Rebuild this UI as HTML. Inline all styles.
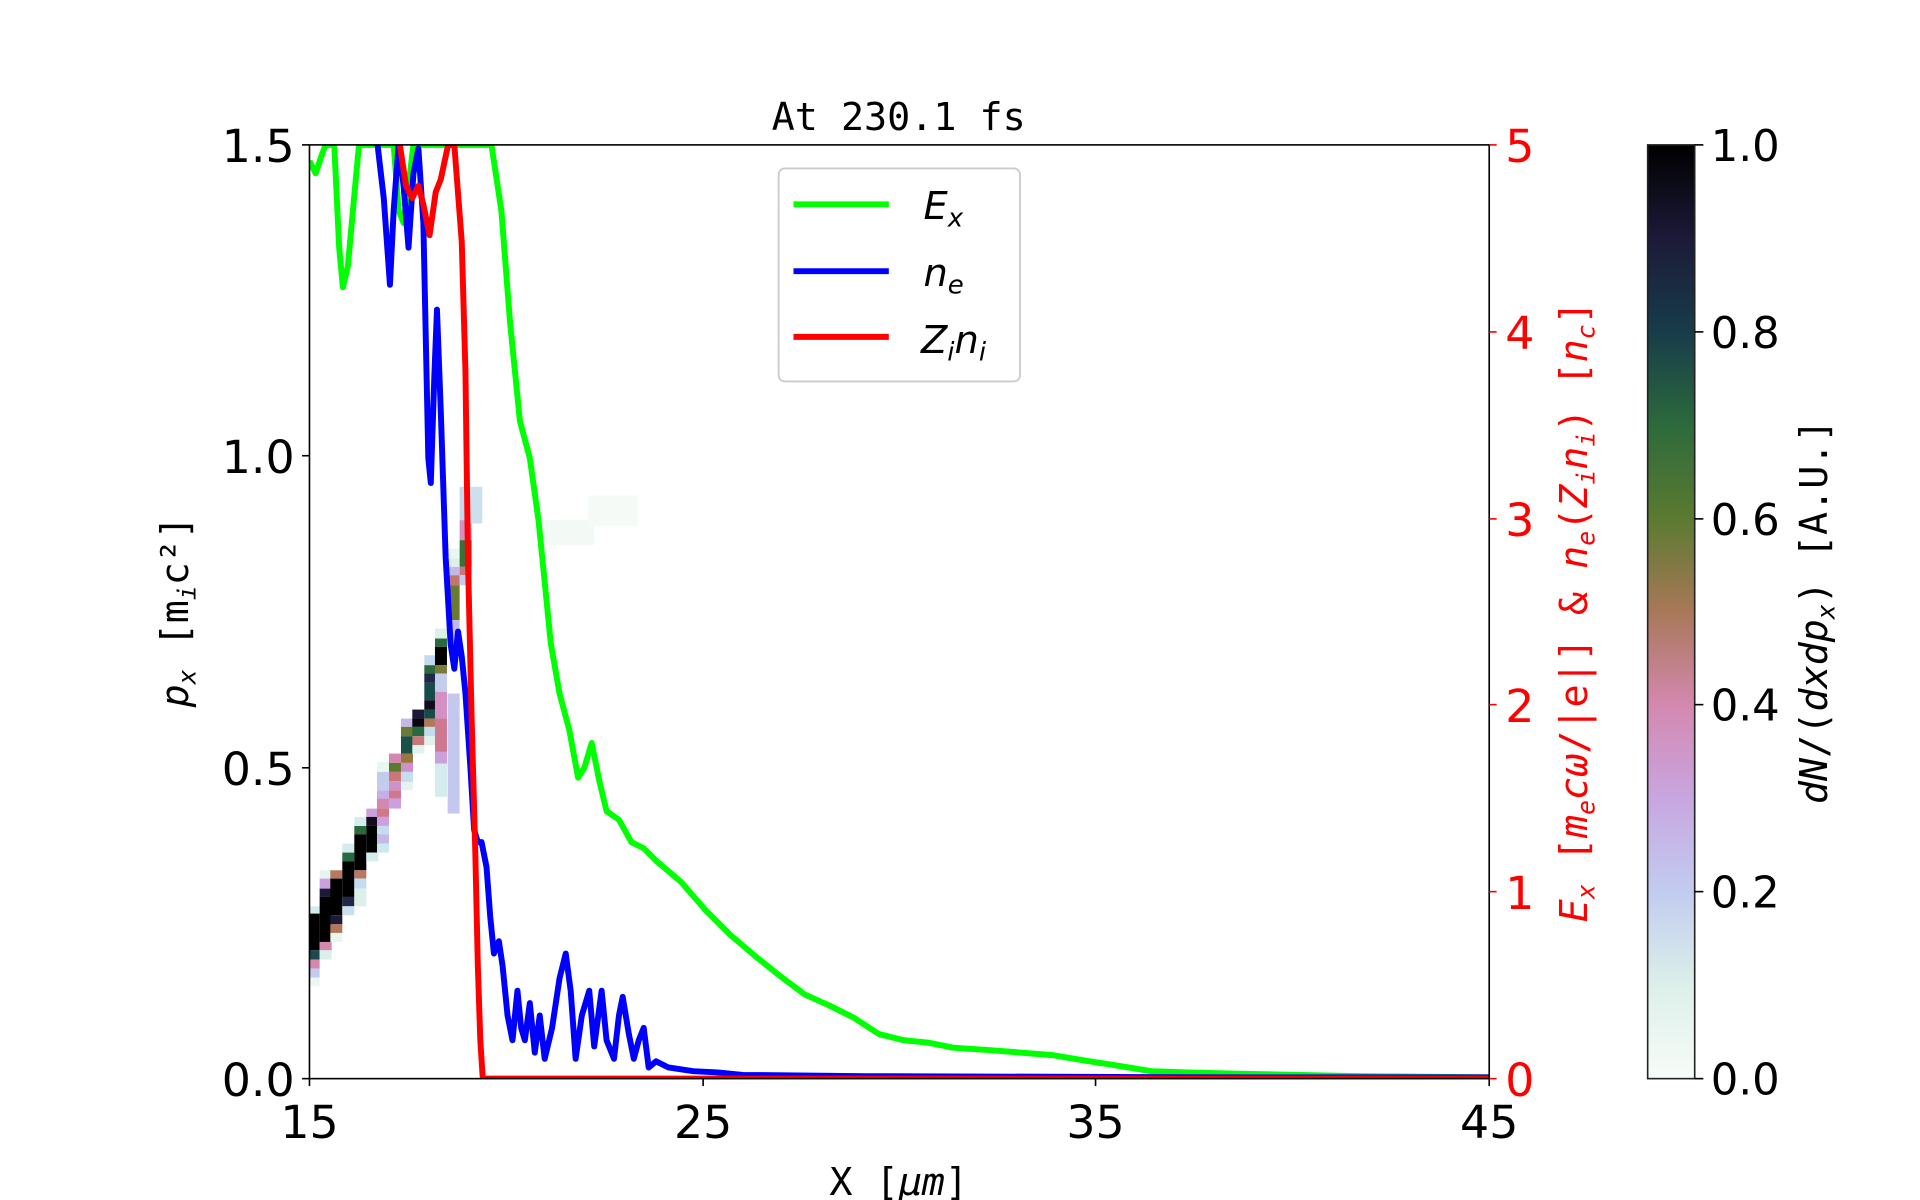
<!DOCTYPE html>
<html><head><meta charset="utf-8"><style>html,body{margin:0;padding:0;background:#fff}svg{display:block}</style></head>
<body>
<svg width="1920" height="1200" viewBox="0 0 1551 969" preserveAspectRatio="none" xmlns="http://www.w3.org/2000/svg" font-family="DejaVu Sans, Liberation Sans, sans-serif">
<defs>
<linearGradient id="cb" x1="0" y1="1" x2="0" y2="0">
<stop offset="0" stop-color="#f8fcf8"/><stop offset="0.1" stop-color="#dcefe9"/><stop offset="0.2" stop-color="#c2ccf0"/>
<stop offset="0.3" stop-color="#c8a6e0"/><stop offset="0.4" stop-color="#d488b0"/><stop offset="0.5" stop-color="#a87858"/>
<stop offset="0.6" stop-color="#5b7a30"/><stop offset="0.7" stop-color="#2c6a3c"/><stop offset="0.8" stop-color="#173c4a"/>
<stop offset="0.9" stop-color="#1c1a38"/><stop offset="1" stop-color="#000"/></linearGradient>
<clipPath id="pc"><rect x="250" y="117" width="953" height="754"/></clipPath>
</defs>
<g clip-path="url(#pc)">
<g transform="translate(246.37,387.72) scale(0.26925)">
<rect x="8" y="1278" width="36" height="24" fill="#d4ecee"/>
<rect x="8" y="1300" width="36" height="110" fill="#000"/>
<rect x="8" y="1410" width="36" height="28" fill="#1a4a50"/>
<rect x="8" y="1438" width="36" height="27" fill="#d488b0"/>
<rect x="8" y="1465" width="36" height="27" fill="#c4ccee"/>
<rect x="8" y="1492" width="36" height="26" fill="#eef7f2"/>
<rect x="44" y="1170" width="36" height="25" fill="#e4f4ee"/>
<rect x="44" y="1195" width="36" height="30" fill="#cca0dc"/>
<rect x="44" y="1225" width="36" height="25" fill="#1c1a38"/>
<rect x="44" y="1250" width="36" height="135" fill="#000"/>
<rect x="44" y="1385" width="36" height="25" fill="#d488b0"/>
<rect x="44" y="1410" width="36" height="28" fill="#dcefe9"/>
<rect x="76" y="1170" width="36" height="25" fill="#b87860"/>
<rect x="76" y="1195" width="36" height="110" fill="#000"/>
<rect x="76" y="1305" width="36" height="27" fill="#1c1a38"/>
<rect x="76" y="1332" width="36" height="26" fill="#b07858"/>
<rect x="76" y="1358" width="36" height="27" fill="#eaf6f0"/>
<rect x="112" y="1090" width="36" height="27" fill="#d4ecee"/>
<rect x="112" y="1117" width="36" height="26" fill="#256a40"/>
<rect x="112" y="1143" width="36" height="107" fill="#000"/>
<rect x="112" y="1250" width="36" height="28" fill="#1c2a48"/>
<rect x="112" y="1278" width="36" height="27" fill="#c8e0f0"/>
<rect x="148" y="1037" width="36" height="25" fill="#2c6a3c"/>
<rect x="148" y="1062" width="36" height="108" fill="#000"/>
<rect x="148" y="1170" width="36" height="25" fill="#b87860"/>
<rect x="148" y="1195" width="36" height="30" fill="#c4dcf0"/>
<rect x="148" y="1225" width="36" height="53" fill="#dcefe9"/>
<rect x="148" y="1010" width="36" height="27" fill="#d4ecee"/>
<rect x="184" y="985" width="36" height="25" fill="#cca0dc"/>
<rect x="184" y="1010" width="36" height="27" fill="#140c1c"/>
<rect x="184" y="1037" width="36" height="80" fill="#000"/>
<rect x="184" y="1117" width="36" height="26" fill="#d4ecee"/>
<rect x="216" y="845" width="36" height="30" fill="#eaf6f0"/>
<rect x="216" y="875" width="36" height="55" fill="#c4ccee"/>
<rect x="216" y="930" width="36" height="25" fill="#c4b0e8"/>
<rect x="216" y="955" width="36" height="30" fill="#d488b0"/>
<rect x="216" y="985" width="36" height="25" fill="#d07888"/>
<rect x="216" y="1010" width="36" height="27" fill="#cca0dc"/>
<rect x="216" y="1037" width="36" height="25" fill="#c4dcf0"/>
<rect x="216" y="1062" width="36" height="28" fill="#c4b8e8"/>
<rect x="216" y="1090" width="36" height="27" fill="#cce8ee"/>
<rect x="252" y="820" width="36" height="28" fill="#d488b0"/>
<rect x="252" y="848" width="36" height="27" fill="#5b7a30"/>
<rect x="252" y="875" width="36" height="28" fill="#c87878"/>
<rect x="252" y="903" width="36" height="27" fill="#d090c8"/>
<rect x="252" y="930" width="36" height="25" fill="#d07890"/>
<rect x="252" y="955" width="36" height="30" fill="#cca0dc"/>
<rect x="288" y="715" width="36" height="25" fill="#c4b8e8"/>
<rect x="288" y="740" width="36" height="28" fill="#6a7a30"/>
<rect x="288" y="768" width="36" height="52" fill="#1a5048"/>
<rect x="288" y="820" width="36" height="28" fill="#987840"/>
<rect x="288" y="848" width="36" height="27" fill="#d090d0"/>
<rect x="288" y="875" width="36" height="30" fill="#c8dcf0"/>
<rect x="288" y="905" width="36" height="25" fill="#e4f4ee"/>
<rect x="322" y="688" width="36" height="27" fill="#1c1a38"/>
<rect x="322" y="715" width="36" height="25" fill="#0c0610"/>
<rect x="322" y="740" width="36" height="28" fill="#256a40"/>
<rect x="322" y="768" width="36" height="27" fill="#c87878"/>
<rect x="322" y="795" width="36" height="25" fill="#e0f2ec"/>
<rect x="358" y="525" width="36" height="30" fill="#c4d8f0"/>
<rect x="358" y="555" width="36" height="25" fill="#2c6a3c"/>
<rect x="358" y="580" width="36" height="28" fill="#1c2a48"/>
<rect x="358" y="608" width="36" height="52" fill="#174a4a"/>
<rect x="358" y="660" width="36" height="28" fill="#140c1c"/>
<rect x="358" y="688" width="36" height="27" fill="#174a4a"/>
<rect x="358" y="715" width="36" height="25" fill="#b07858"/>
<rect x="358" y="740" width="36" height="28" fill="#c4dcf0"/>
<rect x="358" y="768" width="36" height="27" fill="#e0f2ec"/>
<rect x="390" y="445" width="36" height="30" fill="#dcefe9"/>
<rect x="390" y="475" width="36" height="25" fill="#256a40"/>
<rect x="390" y="500" width="36" height="55" fill="#000"/>
<rect x="390" y="555" width="36" height="25" fill="#7a7a38"/>
<rect x="390" y="580" width="36" height="55" fill="#c4ccee"/>
<rect x="390" y="635" width="36" height="80" fill="#d490c0"/>
<rect x="390" y="715" width="36" height="100" fill="#d07890"/>
<rect x="390" y="815" width="36" height="35" fill="#cca0dc"/>
<rect x="390" y="850" width="36" height="100" fill="#d4ecee"/>
<rect x="428" y="205" width="36" height="30" fill="#eaf6f0"/>
<rect x="428" y="235" width="36" height="25" fill="#dcefe9"/>
<rect x="428" y="260" width="36" height="25" fill="#c4b8e8"/>
<rect x="428" y="285" width="36" height="30" fill="#c07868"/>
<rect x="428" y="315" width="36" height="105" fill="#6a7a30"/>
<rect x="428" y="420" width="36" height="80" fill="#c4b8e8"/>
<rect x="428" y="640" width="36" height="360" fill="#c4c8ee"/>
<rect x="464" y="20" width="36" height="100" fill="#c4d8f0"/>
<rect x="464" y="120" width="36" height="60" fill="#d490c0"/>
<rect x="464" y="180" width="36" height="80" fill="#3a7038"/>
<rect x="464" y="260" width="36" height="25" fill="#c87878"/>
<rect x="464" y="285" width="36" height="30" fill="#c4ccee"/>
<rect x="496" y="20" width="36" height="110" fill="#cce0ee"/>
</g>
<rect x="440" y="420" width="40" height="20" fill="#f3f9f5"/>
<rect x="475" y="400" width="40" height="25" fill="#f6faf7"/>
<polyline fill="none" stroke="#00ff00" stroke-width="4.8" stroke-linejoin="round" points="250,130 255,140 260,125 263,117 270,117 274,200 277,232 281,215 286,160 290,117 318,117 322,170 326,180 330,150 334,117 397,117 405,170 412,260 420,340 428,370 435,420 445,520 452,560 460,590 467,628 472,620 478,600 484,630 490,655 500,662 510,680 520,685 530,695 550,712 570,735 590,755 610,772 630,788 650,803 670,812 690,822 710,835 730,840 750,842 770,846 800,848 850,852 880,857 900,860 930,865 960,866 1000,867 1100,869 1203,870"/>
<polyline fill="none" stroke="#0000ff" stroke-width="4.8" stroke-linejoin="round" points="305,117 310,160 315,230 318,170 322,117 326,150 330,200 334,140 338,120 342,180 346,370 348,390 351,300 353,250 356,330 360,450 364,520 367,540 370,510 373,530 376,560 380,620 383,670 386,680 389,680 393,700 396,740 399,770 403,760 406,780 410,820 414,840 418,800 421,830 424,840 428,810 432,850 436,820 440,855 446,830 452,790 457,770 461,800 465,855 470,820 476,800 480,845 486,800 490,840 496,855 500,820 503,805 508,835 512,855 516,840 520,830 524,862 530,857 540,862 560,865 580,866 600,868 700,869 1000,870 1203,870"/>
<polyline fill="none" stroke="#ff0000" stroke-width="4.8" stroke-linejoin="round" points="323,117 328,150 333,160 338,150 342,165 347,190 352,155 356,145 362,117 367,117 373,195 376,300 378,450 381,580 384,690 386,780 388,840 390,871 1203,871"/>
</g>
<rect x="250" y="117" width="953" height="754" fill="none" stroke="#000" stroke-width="1.3"/>
<g stroke="#000" stroke-width="1.3">
<line x1="244" y1="117" x2="250" y2="117"/><line x1="244" y1="368" x2="250" y2="368"/><line x1="244" y1="620" x2="250" y2="620"/><line x1="244" y1="871" x2="250" y2="871"/>
<line x1="250" y1="871" x2="250" y2="877"/><line x1="568" y1="871" x2="568" y2="877"/><line x1="885" y1="871" x2="885" y2="877"/><line x1="1203" y1="871" x2="1203" y2="877"/>
</g>
<g stroke="#ff0000" stroke-width="1.3">
<line x1="1203" y1="117" x2="1209" y2="117"/><line x1="1203" y1="268" x2="1209" y2="268"/><line x1="1203" y1="419" x2="1209" y2="419"/><line x1="1203" y1="569" x2="1209" y2="569"/><line x1="1203" y1="720" x2="1209" y2="720"/><line x1="1203" y1="871" x2="1209" y2="871"/>
</g>
<g font-size="37" fill="#000" text-anchor="end">
<text x="238" y="131">1.5</text><text x="238" y="382">1.0</text><text x="238" y="634">0.5</text><text x="238" y="885">0.0</text>
</g>
<g font-size="37" fill="#000" text-anchor="middle">
<text x="250" y="919">15</text><text x="568" y="919">25</text><text x="885" y="919">35</text><text x="1203" y="919">45</text>
</g>
<g font-size="37" fill="#ff0000">
<text x="1216" y="131">5</text><text x="1216" y="282">4</text><text x="1216" y="433">3</text><text x="1216" y="583">2</text><text x="1216" y="734">1</text><text x="1216" y="885">0</text>
</g>
<text x="726" y="105" font-family="DejaVu Sans Mono, Liberation Mono, monospace" font-size="31" text-anchor="middle">At 230.1 fs</text>
<text x="726" y="965" font-family="DejaVu Sans Mono, Liberation Mono, monospace" font-size="31" text-anchor="middle">X [<tspan font-style="italic">μm</tspan>]</text>
<text transform="translate(152,494) rotate(-90)" font-family="DejaVu Sans Mono, Liberation Mono, monospace" font-size="31" text-anchor="middle"><tspan font-style="italic">p</tspan><tspan font-style="italic" font-size="20" dy="6">x</tspan><tspan dy="-6"> [m</tspan><tspan font-style="italic" font-size="20" dy="6">i</tspan><tspan dy="-6">c²]</tspan></text>
<text transform="translate(1282,494) rotate(-90)" font-family="DejaVu Sans Mono, Liberation Mono, monospace" font-size="31" text-anchor="middle" fill="#ff0000"><tspan font-style="italic">E</tspan><tspan font-style="italic" font-size="20" dy="6">x</tspan><tspan dy="-6"> [</tspan><tspan font-style="italic">m</tspan><tspan font-style="italic" font-size="20" dy="6">e</tspan><tspan font-style="italic" dy="-6">cω</tspan><tspan>/|e|] &amp; </tspan><tspan font-style="italic">n</tspan><tspan font-style="italic" font-size="20" dy="6">e</tspan><tspan dy="-6">(</tspan><tspan font-style="italic">Z</tspan><tspan font-style="italic" font-size="20" dy="6">i</tspan><tspan font-style="italic" dy="-6">n</tspan><tspan font-style="italic" font-size="20" dy="6">i</tspan><tspan dy="-6">) [</tspan><tspan font-style="italic">n</tspan><tspan font-style="italic" font-size="20" dy="6">c</tspan><tspan dy="-6">]</tspan></text>
<rect x="629" y="136" width="195" height="172" rx="5" fill="#fff" stroke="#ccc" stroke-width="1.5"/>
<line x1="641" y1="165" x2="718" y2="165" stroke="#00ff00" stroke-width="4.8"/>
<line x1="641" y1="219" x2="718" y2="219" stroke="#0000ff" stroke-width="4.8"/>
<line x1="641" y1="272" x2="718" y2="272" stroke="#ff0000" stroke-width="4.8"/>
<g font-size="31" font-style="italic">
<text x="746" y="177">E<tspan font-size="21" dy="6">x</tspan></text>
<text x="746" y="231">n<tspan font-size="21" dy="6">e</tspan></text>
<text x="744" y="285">Z<tspan font-size="21" dy="6">i</tspan><tspan dy="-6">n</tspan><tspan font-size="21" dy="6">i</tspan></text>
</g>
<rect x="1331" y="117" width="38" height="754" fill="url(#cb)" stroke="#222" stroke-width="1.3"/>
<g stroke="#000" stroke-width="1.3">
<line x1="1369" y1="117" x2="1376" y2="117"/><line x1="1369" y1="268" x2="1376" y2="268"/><line x1="1369" y1="419" x2="1376" y2="419"/><line x1="1369" y1="569" x2="1376" y2="569"/><line x1="1369" y1="720" x2="1376" y2="720"/><line x1="1369" y1="871" x2="1376" y2="871"/>
</g>
<g font-size="35" fill="#000">
<text x="1382" y="130">1.0</text><text x="1382" y="281">0.8</text><text x="1382" y="432">0.6</text><text x="1382" y="582">0.4</text><text x="1382" y="733">0.2</text><text x="1382" y="884">0.0</text>
</g>
<text transform="translate(1476,494) rotate(-90)" font-family="DejaVu Sans Mono, Liberation Mono, monospace" font-size="31" text-anchor="middle"><tspan font-style="italic">dN</tspan><tspan>/(</tspan><tspan font-style="italic">dxdp</tspan><tspan font-style="italic" font-size="20" dy="6">x</tspan><tspan dy="-6">) [A.U.]</tspan></text>
</svg>
</body></html>
